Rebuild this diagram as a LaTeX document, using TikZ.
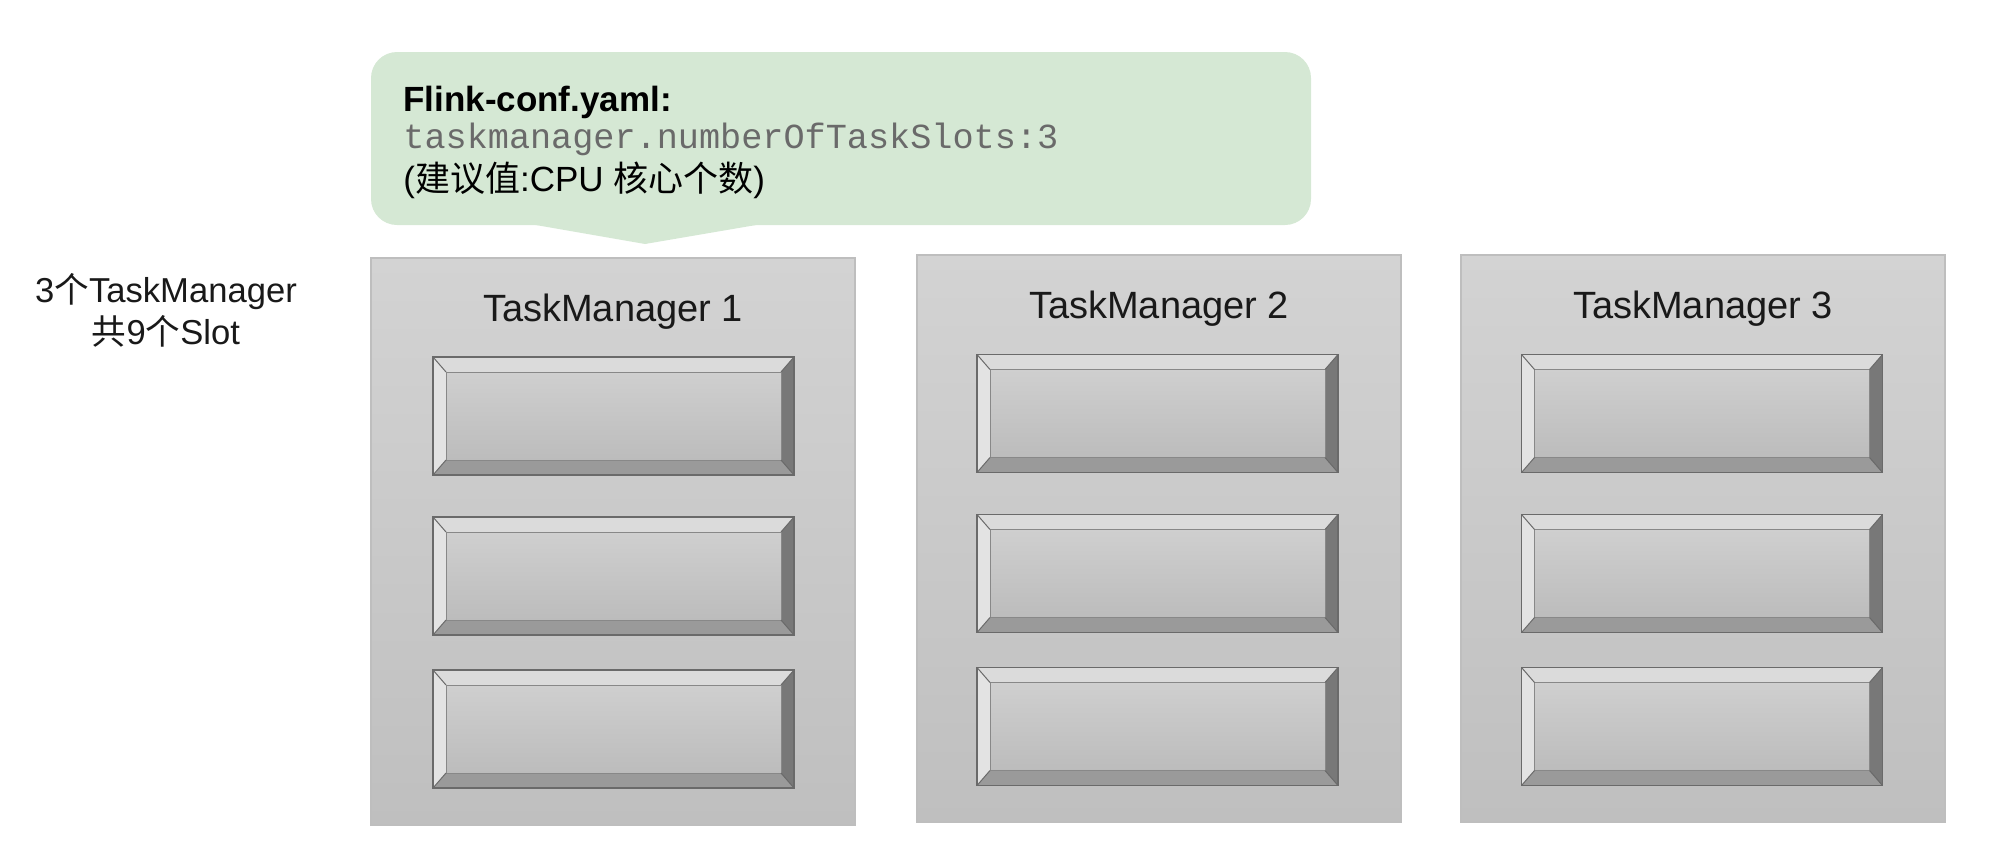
\documentclass[tikz,border=0pt]{standalone}
\usepackage{fontspec}
\setmainfont{Liberation Sans}
\setmonofont{Liberation Mono}
\newfontfamily\cjk{Noto Sans CJK SC}
\usetikzlibrary{calc}
\definecolor{cfgfill}{HTML}{D5E8D4}
\definecolor{tmtop}{HTML}{D3D3D3}
\definecolor{tmbot}{HTML}{BFBFBF}
\definecolor{tmline}{HTML}{BEBEBE}
\definecolor{facetop}{HTML}{CFCFCF}
\definecolor{facebot}{HTML}{BCBCBC}
\definecolor{bvT}{HTML}{DBDBDB}
\definecolor{bvL}{HTML}{E3E3E3}
\definecolor{bvR}{HTML}{787878}
\definecolor{bvB}{HTML}{9A9A9A}
\definecolor{slotline}{HTML}{6A6A6A}
\definecolor{monogray}{HTML}{6A6A6A}
\newcommand\bx{13}
\newcommand\by{15}
\newcommand\bevelslot[1]{%
  \fill[bvT] (#1.north west) -- (#1.north east) -- ($(#1.north east)+(-\bx,\by)$) -- ($(#1.north west)+(\bx,\by)$) -- cycle;
  \fill[bvB] (#1.south west) -- (#1.south east) -- ($(#1.south east)+(-\bx,-\by)$) -- ($(#1.south west)+(\bx,-\by)$) -- cycle;
  \fill[bvL] (#1.north west) -- ($(#1.north west)+(\bx,\by)$) -- ($(#1.south west)+(\bx,-\by)$) -- (#1.south west) -- cycle;
  \fill[bvR] (#1.north east) -- ($(#1.north east)+(-\bx,\by)$) -- ($(#1.south east)+(-\bx,-\by)$) -- (#1.south east) -- cycle;
  \shade[top color=facetop,bottom color=facebot,draw=slotline!80,line width=0.5pt] ($(#1.north west)+(\bx,\by)$) rectangle ($(#1.south east)+(-\bx,-\by)$);
  \draw[slotline,line width=0.5pt] (#1.north west) -- ($(#1.north west)+(\bx,\by)$)
       (#1.north east) -- ($(#1.north east)+(-\bx,\by)$)
       (#1.south west) -- ($(#1.south west)+(\bx,-\by)$)
       (#1.south east) -- ($(#1.south east)+(-\bx,-\by)$);
  \draw[slotline,line width=0.6pt] (#1.north west) rectangle (#1.south east);
}
\begin{document}
\begin{tikzpicture}[x=0.5pt,y=-0.5pt,
  tmbox/.style={rectangle,inner sep=0pt,outer sep=0pt,minimum width=242pt,minimum height=283.5pt,
     top color=tmtop,bottom color=tmbot,draw=tmline,line width=0.6pt},
  slotbox/.style={rectangle,inner sep=0pt,outer sep=0pt,minimum width=180.5pt,minimum height=59pt},
  tmtitle/.style={inner sep=0pt,font=\fontsize{19}{22}\selectfont,text=black!90},
  cfgtext/.style={inner sep=0pt,anchor=base west,font=\fontsize{17.5}{21}\selectfont},
  lefttext/.style={inner sep=0pt,anchor=base,font=\fontsize{17.3}{21}\selectfont,text=black!90}
]
\useasboundingbox (0,0) rectangle (2002,858);

% callout
\node[rectangle,rounded corners=13pt,fill=cfgfill,inner sep=0pt,outer sep=0pt,
      minimum width=470pt,minimum height=86.5pt] (cfg) at (841,138.5) {};
\coordinate (tip) at (645,244);
\fill[cfgfill] ($(cfg.south west)+(159,-1)$) -- (tip) -- ($(cfg.south west)+(391,-1)$) -- cycle;
\node[cfgtext,font=\fontsize{17.5}{21}\selectfont\bfseries] (cfg1) at (403,111) {Flink-conf.yaml:};
\node[cfgtext,font=\fontsize{17.6}{21}\ttfamily,text=monogray] (cfg2) at (403,148) {taskmanager.numberOfTaskSlots:3};
\node[cfgtext] (cfg3) at (403,191) {({\cjk 建议值}:CPU {\cjk 核心个数})};

% left note
\node[lefttext] (note1) at (166,302) {3{\cjk 个}TaskManager};
\node[lefttext] (note2) at (166,344) {{\cjk 共}9{\cjk 个}Slot};

% task managers
\node[tmbox] (tm1) at (613,541.5) {};
\node[tmbox] (tm2) at (1159,538.5) {};
\node[tmbox] (tm3) at (1703,538.5) {};
\node[tmtitle] (t1) at (613,312) {TaskManager 1};
\node[tmtitle] (t2) at (1159,309) {TaskManager 2};
\node[tmtitle] (t3) at (1703,309) {TaskManager 3};

% slots
\node[slotbox] (s11) at (613.5,416) {};
\node[slotbox] (s12) at (613.5,576) {};
\node[slotbox] (s13) at (613.5,729) {};
\node[slotbox] (s21) at (1157.5,413.5) {};
\node[slotbox] (s22) at (1157.5,573.5) {};
\node[slotbox] (s23) at (1157.5,726.5) {};
\node[slotbox] (s31) at (1702,413.5) {};
\node[slotbox] (s32) at (1702,573.5) {};
\node[slotbox] (s33) at (1702,726.5) {};
\foreach \s in {s11,s12,s13,s21,s22,s23,s31,s32,s33}{\bevelslot{\s}}
\end{tikzpicture}
\end{document}
